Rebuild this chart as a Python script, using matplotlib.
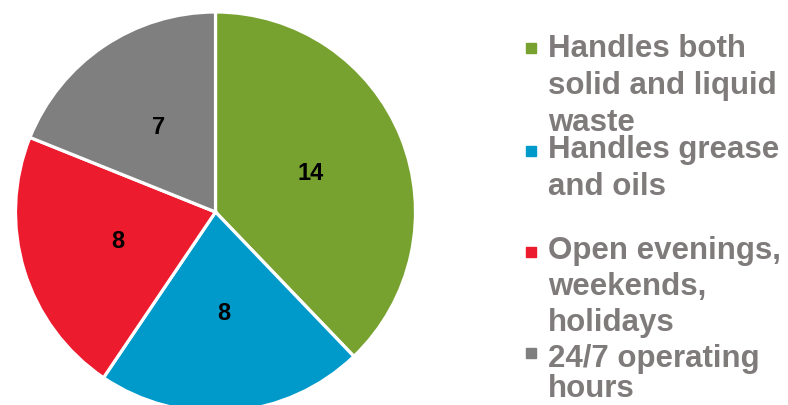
import matplotlib.pyplot as plt
from matplotlib.patches import Rectangle

labels = [["Handles both", "solid and liquid", "waste"],
          ["Handles grease", "and oils"],
          ["Open evenings,", "weekends,", "holidays"],
          ["24/7 operating", "hours"]]
values = [14, 8, 8, 7]
colors = ["#77A22F", "#009ACA", "#EC1B2E", "#7F7F7F"]
# legend layout in pixels from the top: first baseline, line step, square top
first_base = [57, 158, 259, 367]
step = [37, 37, 36, 30]
sq_top = [43, 146, 247, 348]

W, H = 788, 405
fig = plt.figure(figsize=(W / 100, H / 100), dpi=100)
ax = fig.add_axes([0, 0, 1, 1])
cx, cy, r = 215.5, 212, 200
ax.pie(values, colors=colors, startangle=90, counterclock=False,
       radius=1, labels=[str(v) for v in values], labeldistance=0.51,
       wedgeprops=dict(edgecolor="white", linewidth=2.3),
       textprops=dict(fontsize=17, fontweight="bold", color="black",
                      family="Liberation Sans", ha="center", va="center"))
ax.set_xlim(-cx / r, (W - cx) / r)
ax.set_ylim(-(H - cy) / r, cy / r)
ax.set_aspect("equal")
ax.axis("off")

for lines, col, b0, st, sq in zip(labels, colors, first_base, step, sq_top):
    fig.add_artist(Rectangle((526 / W, 1 - (sq + 10) / H), 10 / W, 10 / H,
                             transform=fig.transFigure, color=col))
    for i, line in enumerate(lines):
        fig.text(548 / W, 1 - (b0 + i * st) / H, line, fontsize=22.5,
                 fontweight="bold", color="#7F7B7B", family="Liberation Sans",
                 ha="left", va="baseline")

fig.savefig("out.png", dpi=100)
